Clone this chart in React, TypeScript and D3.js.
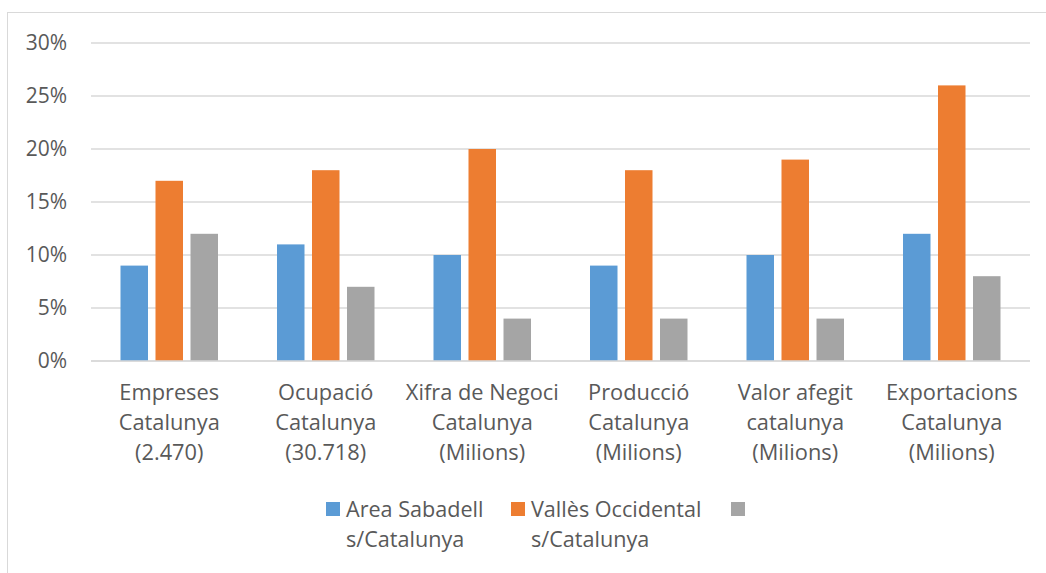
import { useEffect, useRef } from 'react'
import * as d3 from 'd3'

const categories = [
  ['Empreses', 'Catalunya', '(2.470)'],
  ['Ocupació', 'Catalunya', '(30.718)'],
  ['Xifra de Negoci', 'Catalunya', '(Milions)'],
  ['Producció', 'Catalunya', '(Milions)'],
  ['Valor afegit', 'catalunya', '(Milions)'],
  ['Exportacions', 'Catalunya', '(Milions)'],
]
const areaSabadell = [9, 11, 10, 9, 10, 12]
const vallesOccidental = [17, 18, 20, 18, 19, 26]
const thirdSeries = [12, 7, 4, 4, 4, 8]
const yTicks = [0, 5, 10, 15, 20, 25, 30]

const seriesNames = [
  ['Area Sabadell', 's/Catalunya'],
  ['Vallès Occidental', 's/Catalunya'],
  [''],
]
const colors = ['#5b9bd5', '#ed7d31', '#a5a5a5']

export default function App() {
  const svgRef = useRef<SVGSVGElement>(null)

  useEffect(() => {
    if (!svgRef.current) return
    const svg = d3.select(svgRef.current)
    svg.selectAll('*').remove()

    const font = '"Open Sans", Lato, sans-serif'
    const textColor = '#595959'
    const series = [areaSabadell, vallesOccidental, thirdSeries]

    // chart frame
    svg.append('rect')
      .attr('x', 7.5).attr('y', 12.5)
      .attr('width', 1100).attr('height', 700)
      .attr('fill', '#fff')
      .attr('stroke', '#d9d9d9')

    const x = d3.scaleBand<number>()
      .domain(d3.range(categories.length))
      .range([91, 1030])
    const y = d3.scaleLinear().domain([0, 30]).range([361, 43])

    yTicks.forEach(t => {
      svg.append('line')
        .attr('x1', 91).attr('x2', 1030)
        .attr('y1', y(t)).attr('y2', y(t))
        .attr('stroke', '#d9d9d9')
        .attr('stroke-width', 1.5)
      svg.append('text')
        .attr('x', 67).attr('y', y(t))
        .attr('dy', '0.35em')
        .attr('text-anchor', 'end')
        .style('font-family', font)
        .style('font-size', '21px')
        .style('fill', textColor)
        .text(`${t}%`)
    })

    const barW = 27.5
    const step = 35
    categories.forEach((cat, i) => {
      const cx = x(i)! + x.bandwidth() / 2
      series.forEach((s, k) => {
        svg.append('rect')
          .attr('x', cx + (k - 1) * step - barW / 2)
          .attr('y', y(s[i]))
          .attr('width', barW)
          .attr('height', y(0) - y(s[i]))
          .attr('fill', colors[k])
      })
      cat.forEach((line, j) => {
        svg.append('text')
          .attr('x', cx).attr('y', 392 + j * 30)
          .attr('dy', '0.35em')
          .attr('text-anchor', 'middle')
          .style('font-family', font)
          .style('font-size', '21.8px')
          .style('fill', textColor)
          .text(line)
      })
    })

    // axis baseline
    svg.append('line')
      .attr('x1', 91).attr('x2', 1030)
      .attr('y1', y(0)).attr('y2', y(0))
      .attr('stroke', '#d9d9d9')
      .attr('stroke-width', 1.5)

    const legendX = [326, 511, 731]
    seriesNames.forEach((name, k) => {
      svg.append('rect')
        .attr('x', legendX[k]).attr('y', 502)
        .attr('width', 14).attr('height', 14)
        .attr('fill', colors[k])
      name.forEach((line, j) => {
        svg.append('text')
          .attr('x', legendX[k] + 20).attr('y', 509 + j * 30)
          .attr('dy', '0.35em')
          .style('font-family', font)
          .style('font-size', '21.6px')
          .style('fill', textColor)
          .text(line)
      })
    })
  }, [])

  return (
    <svg
      ref={svgRef}
      width={1046}
      height={573}
      style={{ position: 'absolute', left: 0, top: 0, background: '#fff' }}
    />
  )
}
